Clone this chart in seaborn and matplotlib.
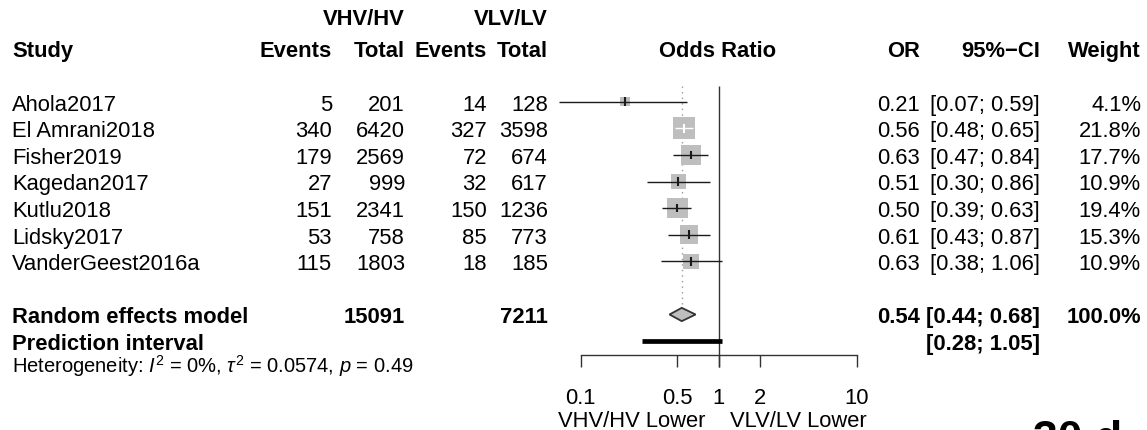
import numpy as np
import pandas as pd
import matplotlib
matplotlib.use("Agg")
import matplotlib.pyplot as plt
import matplotlib.transforms as mtransforms
from matplotlib.ticker import NullLocator, FixedLocator, FixedFormatter
import seaborn as sns

# ---------------- data ----------------
studies = ["Ahola2017", "El Amrani2018", "Fisher2019", "Kagedan2017",
           "Kutlu2018", "Lidsky2017", "VanderGeest2016a"]
events_hv = [5, 340, 179, 27, 151, 53, 115]
total_hv = [201, 6420, 2569, 999, 2341, 758, 1803]
events_lv = [14, 327, 72, 32, 150, 85, 18]
total_lv = [128, 3598, 674, 617, 1236, 773, 185]
odds_ratio = [0.21, 0.56, 0.63, 0.51, 0.50, 0.61, 0.63]
ci_low = [0.07, 0.48, 0.47, 0.30, 0.39, 0.43, 0.38]
ci_high = [0.59, 0.65, 0.84, 0.86, 0.63, 0.87, 1.06]
weights = [4.1, 21.8, 17.7, 10.9, 19.4, 15.3, 10.9]

re_total_hv = 15091
re_total_lv = 7211
re_or = 0.54
re_low = 0.44
re_high = 0.68
re_weight = 100.0
pi_low = 0.28
pi_high = 1.05

x_ticks = [0.1, 0.5, 1, 2, 10]
x_tick_labels = ["0.1", "0.5", "1", "2", "10"]
label_left = "VHV/HV Lower"
label_right = "VLV/LV Lower"
het_text = r"Heterogeneity: $I^2$ = 0%, $\tau^2$ = 0.0574, $p$ = 0.49"

# ---------------- style ----------------
sns.set_theme(style="white")
plt.rcParams['font.family'] = ['Liberation Sans', 'DejaVu Sans']
plt.rcParams['mathtext.fontset'] = 'custom'
plt.rcParams['mathtext.rm'] = 'Liberation Sans'
plt.rcParams['mathtext.it'] = 'Liberation Sans:italic'
plt.rcParams['mathtext.bf'] = 'Liberation Sans:bold'

W, H = 1147, 431
ROW0, ROWH = 102.7, 26.6
PX_DEC = 138.0
FS = 15.8
GREY = "#BEBEBE"


def row_of(px):
    return (px - ROW0) / ROWH


fig = plt.figure(figsize=(W / 100, H / 100), dpi=100, facecolor="white")
x_left_px = 580.7 - np.log10(2) * PX_DEC
ax = fig.add_axes([x_left_px / W, 0, np.log10(400) * PX_DEC / W, 1])
ax.set_facecolor("white")

df = pd.DataFrame({"study": studies, "OR": odds_ratio, "row": np.arange(len(studies)),
                   "weight": weights})
sizes = {w: 11.5 * w for w in sorted(set(weights))}
sns.scatterplot(data=df, x="OR", y="row", size="weight", sizes=sizes, marker="s",
                color=GREY, linewidth=0, legend=False, ax=ax, zorder=2)

ax.set_xscale("log")
ax.set_xlim(0.05, 20)
ax.set_ylim(row_of(H), row_of(0))

# confidence intervals
for i, (o, lo, hi, w) in enumerate(zip(odds_ratio, ci_low, ci_high, weights)):
    side_px = np.sqrt(sizes[w]) * 100 / 72
    half = side_px / 2 / PX_DEC
    inside = (np.log10(o) - np.log10(lo) < half) and (np.log10(hi) - np.log10(o) < half)
    c = "white" if inside else "#1a1a1a"
    ax.hlines(i, lo, hi, color=c, lw=1.0, zorder=3, clip_on=False)
    ax.vlines(o, i - 0.16, i + 0.16, color=c, lw=1.5, zorder=3)

# reference line and summary dotted line
ax.vlines(1, row_of(87), row_of(368.3), color="#333333", lw=1.0, zorder=1)
ax.vlines(re_or, row_of(87), 8 - 0.25, color="#9a9a9a", lw=1.0,
          linestyles=(0, (1, 3)), zorder=1)

# diamond
ax.fill([re_low, re_or, re_high, re_or], [8, 8 - 0.25, 8, 8 + 0.25],
        facecolor=GREY, edgecolor="#333333", lw=1.3, zorder=3)

# prediction interval
ax.hlines(9, pi_low, pi_high, color="black", lw=3.4, capstyle="butt", zorder=3)

# axis
for s in ["left", "top", "right"]:
    ax.spines[s].set_visible(False)
ax.spines["bottom"].set_position(("data", row_of(356)))
ax.spines["bottom"].set_bounds(0.1, 10)
ax.spines["bottom"].set_color("#333333")
ax.spines["bottom"].set_linewidth(1.0)
ax.xaxis.set_major_locator(FixedLocator(x_ticks))
ax.xaxis.set_major_formatter(FixedFormatter(x_tick_labels))
ax.xaxis.set_minor_locator(NullLocator())
ax.tick_params(axis="x", which="major", direction="out", length=8.9, width=1.0,
               color="#333333", pad=14.5, labelsize=FS, labelcolor="black", bottom=True)
ax.set_yticks([])
ax.set_xlabel("")
ax.set_ylabel("")

trans = mtransforms.blended_transform_factory(fig.transFigure, ax.transData)


def put(xpx, row, s, ha="left", bold=False, size=FS):
    em_px = size * 100 / 72
    yb = row + 0.358 * em_px / ROWH
    ax.text(xpx / W, yb, s, transform=trans, ha=ha, va="baseline", fontsize=size,
            fontweight="bold" if bold else "normal", color="black", clip_on=False)


X_NAME, X_EV1, X_TOT1, X_EV2, X_TOT2 = 12, 332, 405, 487, 548
X_OR, X_CI, X_W = 920, 1040, 1141

# headers
put(X_TOT1, row_of(17), "VHV/HV", "right", True)
put(X_TOT2, row_of(17), "VLV/LV", "right", True)
put(X_NAME, -2, "Study", "left", True)
put(X_EV1, -2, "Events", "right", True)
put(X_TOT1, -2, "Total", "right", True)
put(X_EV2, -2, "Events", "right", True)
put(X_TOT2, -2, "Total", "right", True)
put(718, -2, "Odds Ratio", "center", True)
put(X_OR, -2, "OR", "right", True)
put(X_CI, -2, "95%\u2212CI", "right", True)
put(X_W, -2, "Weight", "right", True)

# study rows
for i in range(len(studies)):
    put(X_NAME, i, studies[i])
    put(X_EV1, i, str(events_hv[i]), "right")
    put(X_TOT1, i, str(total_hv[i]), "right")
    put(X_EV2, i, str(events_lv[i]), "right")
    put(X_TOT2, i, str(total_lv[i]), "right")
    put(X_OR, i, f"{odds_ratio[i]:.2f}", "right")
    put(X_CI, i, f"[{ci_low[i]:.2f}; {ci_high[i]:.2f}]", "right")
    put(X_W, i, f"{weights[i]:.1f}%", "right")

# summary rows
put(X_NAME, 8, "Random effects model", "left", True)
put(X_TOT1, 8, str(re_total_hv), "right", True)
put(X_TOT2, 8, str(re_total_lv), "right", True)
put(X_OR, 8, f"{re_or:.2f}", "right", True)
put(X_CI, 8, f"[{re_low:.2f}; {re_high:.2f}]", "right", True)
put(X_W, 8, f"{re_weight:.1f}%", "right", True)
put(X_NAME, 9, "Prediction interval", "left", True)
put(X_CI, 9, f"[{pi_low:.2f}; {pi_high:.2f}]", "right", True)
put(X_NAME, row_of(366), het_text, "left", False, 14.5)

# bottom labels
put(705, row_of(419.5), label_left, "right")
put(730, row_of(419.5), label_right, "left")

# clipped text fragment at bottom-right edge (as in the reference)
ax.text(1033 / W, row_of(452), "30 d", transform=trans, ha="left", va="baseline",
        fontsize=32, fontweight="bold", color="black", clip_on=False)

fig.savefig("out.png", dpi=100, facecolor="white")
